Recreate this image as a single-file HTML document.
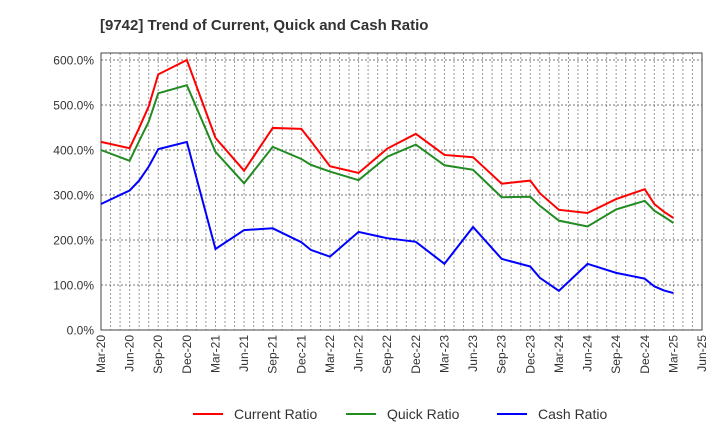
<!DOCTYPE html>
<html><head><meta charset="utf-8"><style>
body{margin:0;background:#fff;font-family:"Liberation Sans",sans-serif}
</style></head><body>
<svg id="chart" width="720" height="440" xmlns="http://www.w3.org/2000/svg" font-family="Liberation Sans, sans-serif"></svg>
<script>
const months=[0,3,4,5,6,9,12,15,18,21,22,24,27,30,33,36,39,42,45,46,48,51,54,57,58,59,60];
const currentRatio=[418,404,449,497,568,600,427,354,449,447,420,364,349,403,436,389,384,325,332,304,267,260,291,313,280,263,249];
const quickRatio=[400,376,420,463,526,544,396,326,407,380,367,352,333,385,412,366,356,295,296,276,243,230,268,287,265,252,238];
const cashRatio=[280,310,332,363,402,418,180,222,226,195,178,163,218,204,196,147,229,158,141,116,87,147,127,114,97,88,82];
const yTicks=[0,100,200,300,400,500,600];
const xLabels=["Mar-20","Jun-20","Sep-20","Dec-20","Mar-21","Jun-21","Sep-21","Dec-21","Mar-22","Jun-22","Sep-22","Dec-22","Mar-23","Jun-23","Sep-23","Dec-23","Mar-24","Jun-24","Sep-24","Dec-24","Mar-25","Jun-25"];
const L=101,R=702,T=53,B=330;
const xs=m=>L+(R-L)*m/63;
const ys=v=>B-v*0.45;
const svg=document.getElementById('chart');
const NS='http://www.w3.org/2000/svg';
function mk(tag,attrs,parent){const e=document.createElementNS(NS,tag);for(const k in attrs)e.setAttribute(k,attrs[k]);(parent||svg).appendChild(e);return e;}
let t=mk('text',{x:100,y:30,'font-size':15,'font-weight':'bold',fill:'#333'});


t.textContent='[9742]  Trend of Current, Quick and Cash Ratio';
for(let m=0;m<=63;m++){let g=mk('line',{x1:xs(m),x2:xs(m),y1:T,y2:B,stroke:'#999','stroke-dasharray':'2,2','stroke-width':1});

}
yTicks.forEach(v=>{let g=mk('line',{x1:L,x2:R,y1:ys(v),y2:ys(v),stroke:'#777','stroke-dasharray':'2,2','stroke-width':1});


let tx=mk('text',{x:L-7,y:ys(v)+4.5,'text-anchor':'end','font-size':12,fill:'#333'});


tx.textContent=v.toFixed(1)+'%';});
xLabels.forEach((lab,i)=>{const x=xs(i*3);
let tx=mk('text',{x:0,y:0,'text-anchor':'end','font-size':12,fill:'#333',transform:`translate(${x+4},${B+5}) rotate(-90)`});


tx.textContent=lab;});
let fr=mk('rect',{x:L,y:T,width:R-L,height:B-T,fill:'none',stroke:'#444','stroke-width':1});


const series=[[currentRatio,'#ff0000','current-ratio-line'],[quickRatio,'#228b22','quick-ratio-line'],[cashRatio,'#0000ff','cash-ratio-line']];
series.forEach(([vals,c,n])=>{
let p=mk('polyline',{points:vals.map((v,i)=>xs(months[i])+','+ys(v)).join(' '),fill:'none',stroke:c,'stroke-width':2});

});
const legend=[['Current Ratio','#ff0000',193],['Quick Ratio','#228b22',346],['Cash Ratio','#0000ff',497]];
legend.forEach(([lab,c,x])=>{
let g=mk('g',{});


mk('line',{x1:x,x2:x+30,y1:414,y2:414,stroke:c,'stroke-width':2},g);
let tx=mk('text',{x:x+41,y:419,'font-size':14,fill:'#333'},g);
tx.textContent=lab;});
</script>
</body></html>
